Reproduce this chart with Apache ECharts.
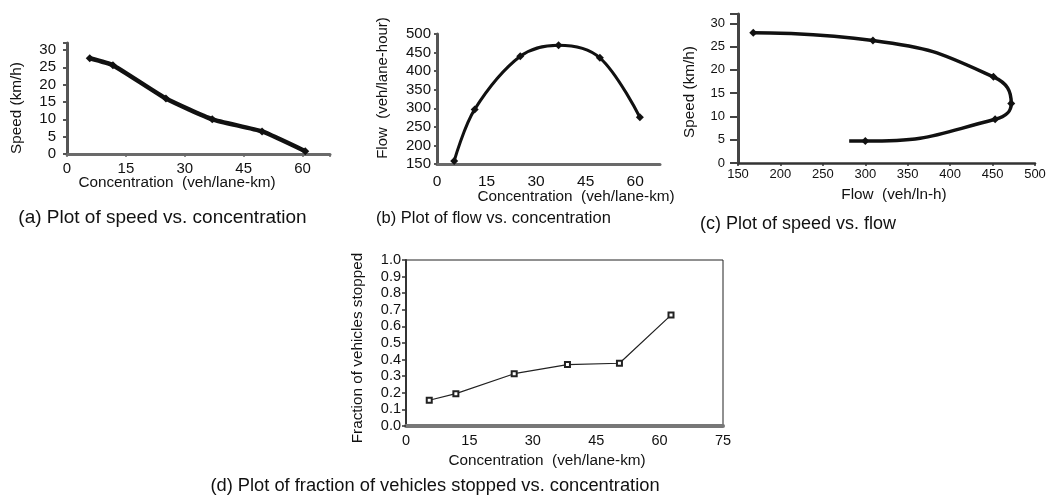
<!DOCTYPE html>
<html>
<head>
<meta charset="utf-8">
<script src="https://cdn.jsdelivr.net/npm/echarts@6/dist/echarts.min.js"></script>
<style>
  html, body { margin: 0; padding: 0; background: #fff; }
  #chart { width: 1056px; height: 495px; }
</style>
</head>
<body>
<div id="chart"></div>
<script>
// (a) speed vs. concentration
var concA = [5.8, 11.7, 25.2, 37.0, 49.7, 60.7];
var speedA = [27.6, 25.6, 16.0, 10.0, 6.5, 0.8];

// (b) flow vs. concentration
var concB = [5.2, 11.4, 25.2, 36.8, 49.3, 61.4];
var flowB = [158, 297, 440, 470, 436, 276];

// (c) speed vs. flow (last point is the curve end, no marker)
var flowC = [168, 309, 451, 472, 453, 300, 281];
var speedC = [28.0, 26.3, 18.5, 12.8, 9.4, 4.7, 4.7];
var markC = [true, true, true, true, true, true, false];

// (d) fraction of vehicles stopped vs. concentration
var concD = [5.5, 11.8, 25.6, 38.2, 50.5, 62.7];
var stoppedD = [0.155, 0.195, 0.315, 0.37, 0.378, 0.668];

// tick labels
var concTicks = [0, 15, 30, 45, 60];
var concTicksD = [0, 15, 30, 45, 60, 75];
var speedTicks = [0, 5, 10, 15, 20, 25, 30];
var flowTicksB = [150, 200, 250, 300, 350, 400, 450, 500];
var flowTicksC = [150, 200, 250, 300, 350, 400, 450, 500];
var fractionTicks = [0, 0.1, 0.2, 0.3, 0.4, 0.5, 0.6, 0.7, 0.8, 0.9, 1.0];

(function () {
  var FONT = '"Liberation Sans", Arial, sans-serif';

  function pairs(xs, ys) {
    return xs.map(function (x, i) { return [x, ys[i]]; });
  }

  function onlyTicks(list, digits) {
    return function (v) {
      for (var i = 0; i < list.length; i++) {
        if (Math.abs(list[i] - v) < 1e-6) {
          return digits ? v.toFixed(digits) : String(v);
        }
      }
      return '';
    };
  }

  function axis(grid, min, max, interval, ticks, o) {
    return {
      type: 'value',
      gridIndex: grid,
      min: min,
      max: max,
      interval: interval,
      axisLine: { show: true, onZero: false, lineStyle: { color: o.lineColor, width: o.lineWidth } },
      axisTick: { show: o.tickLen > 0, length: o.tickLen, lineStyle: { color: o.lineColor, width: o.tickWidth || 1.5 } },
      splitLine: { show: false },
      axisLabel: {
        margin: o.margin,
        color: '#111',
        fontSize: o.fontSize,
        fontFamily: FONT,
        formatter: onlyTicks(ticks, o.digits)
      }
    };
  }

  function text(str, x, y, size, rotate) {
    return {
      type: 'text',
      x: x,
      y: y,
      rotation: rotate ? Math.PI / 2 : 0,
      silent: true,
      style: {
        text: str,
        font: size + 'px ' + FONT,
        fill: '#111',
        align: 'center',
        verticalAlign: 'middle'
      }
    };
  }

  var option = {
    animation: false,
    backgroundColor: '#fff',
    grid: [
      { left: 67, top: 43, width: 263, height: 111 },
      { left: 437, top: 34, width: 223, height: 130 },
      { left: 738, top: 14, width: 297, height: 149 },
      { left: 406, top: 260, width: 317, height: 166, show: true, borderColor: '#222', borderWidth: 1 }
    ],
    xAxis: [
      axis(0, 0, 67, 15, concTicks, { lineColor: '#6a6a6a', lineWidth: 3, tickLen: 3, margin: 7, fontSize: 15 }),
      axis(1, 0, 67.5, 15, concTicks, { lineColor: '#6a6a6a', lineWidth: 3, tickLen: 0, margin: 10, fontSize: 15.5 }),
      axis(2, 150, 500, 50, flowTicksC, { lineColor: '#333', lineWidth: 2.5, tickLen: 3, margin: 5, fontSize: 13 }),
      axis(3, 0, 75, 15, concTicksD, { lineColor: '#777', lineWidth: 4, tickLen: 0, margin: 7, fontSize: 14.5 })
    ],
    yAxis: [
      axis(0, 0, 32, 5, speedTicks, { lineColor: '#555', lineWidth: 3, tickLen: 4, tickWidth: 2, margin: 11, fontSize: 15 }),
      axis(1, 150, 500, 50, flowTicksB, { lineColor: '#555', lineWidth: 3, tickLen: 3, tickWidth: 2, margin: 6, fontSize: 15 }),
      axis(2, 0, 32, 5, speedTicks, { lineColor: '#444', lineWidth: 3, tickLen: 8, tickWidth: 2, margin: 13, fontSize: 13 }),
      axis(3, 0, 1, 0.1, fractionTicks, { lineColor: '#333', lineWidth: 2, tickLen: 4, margin: 5, fontSize: 14.5, digits: 1 })
    ],
    series: [
      {
        type: 'line', xAxisIndex: 0, yAxisIndex: 0,
        data: pairs(concA, speedA),
        smooth: 0.15,
        symbol: 'diamond', symbolSize: 8,
        lineStyle: { color: '#111', width: 4.5 },
        itemStyle: { color: '#111' }
      },
      {
        type: 'line', xAxisIndex: 1, yAxisIndex: 1,
        data: pairs(concB, flowB),
        smooth: 0.35,
        symbol: 'diamond', symbolSize: 8,
        lineStyle: { color: '#111', width: 3 },
        itemStyle: { color: '#111' }
      },
      {
        type: 'line', xAxisIndex: 2, yAxisIndex: 2,
        data: pairs(flowC, speedC).map(function (p, i) {
          return markC[i] ? p : { value: p, symbol: 'none' };
        }),
        smooth: 0.5,
        symbol: 'diamond', symbolSize: 8,
        lineStyle: { color: '#111', width: 3.5 },
        itemStyle: { color: '#111' }
      },
      {
        type: 'line', xAxisIndex: 3, yAxisIndex: 3,
        data: pairs(concD, stoppedD),
        symbol: 'emptyRect', symbolSize: 5,
        lineStyle: { color: '#222', width: 1.2 },
        itemStyle: { color: '#222', borderWidth: 1.2 }
      }
    ],
    graphic: [
      text('Speed (km/h)', 17, 108, 15.3, true),
      text('Concentration  (veh/lane-km)', 177, 183, 15.3),
      text('(a) Plot of speed vs. concentration', 162.5, 218, 19),

      text('Flow  (veh/lane-hour)', 383, 88, 15, true),
      text('Concentration  (veh/lane-km)', 576, 197, 15.3),
      text('(b) Plot of flow vs. concentration', 493.5, 218, 16.5),

      text('Speed (km/h)', 690, 92, 15.3, true),
      text('Flow  (veh/ln-h)', 894, 195, 15.3),
      text('(c) Plot of speed vs. flow', 798, 224, 18),

      text('Fraction of vehicles stopped', 358, 348, 15.3, true),
      text('Concentration  (veh/lane-km)', 547, 461, 15.3),
      text('(d) Plot of fraction of vehicles stopped vs. concentration', 435, 486, 18.3)
    ]
  };

  var chart = echarts.init(document.getElementById('chart'));
  chart.setOption(option);
})();
</script>
</body>
</html>
